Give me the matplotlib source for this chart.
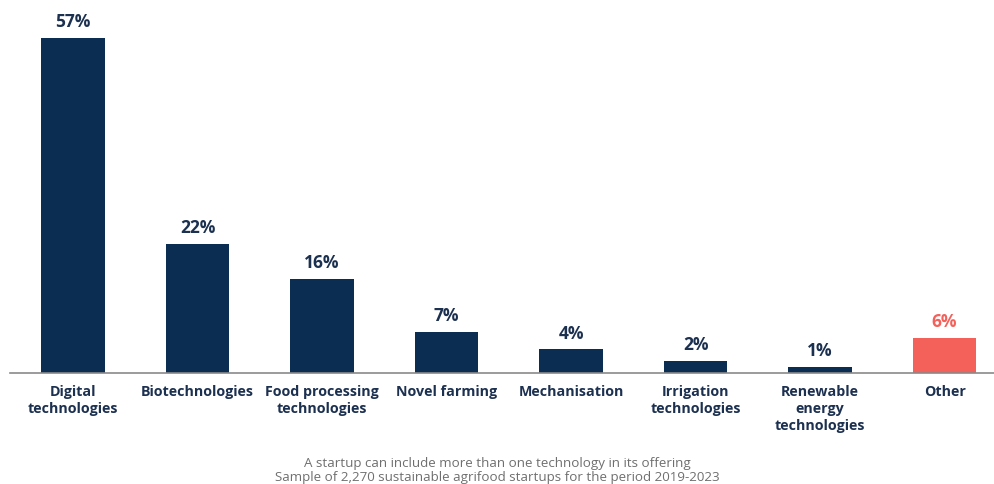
import matplotlib
matplotlib.use("Agg")
from matplotlib import pyplot as plt

# technology categories and share of startups (%)
categories = ["Digital\ntechnologies", "Biotechnologies", "Food processing\ntechnologies",
              "Novel farming", "Mechanisation", "Irrigation\ntechnologies",
              "Renewable\nenergy\ntechnologies", "Other"]
shares = [57, 22, 16, 7, 4, 2, 1, 6]

NAVY = "#0b2d52"
RED = "#f4605a"
TEXT = "#1c3050"

plt.rcParams['font.family'] = ['Open Sans', 'DejaVu Sans']

fig = plt.figure(figsize=(9.94, 4.84), dpi=100)
ax = fig.add_axes([10/994, 111/484, 984/994, 373/484])

colors = [NAVY]*7 + [RED]
xs = list(range(len(categories)))
ax.bar(xs, shares, width=0.51, color=colors)

# value labels above the bars
for x, v, c in zip(xs, shares, colors):
    lc = RED if c == RED else TEXT
    ax.annotate(f"{v}%", (x, v), xytext=(0, 5), textcoords="offset points",
                ha="center", va="bottom", fontsize=12.5, fontweight="bold", color=lc)

ax.set_xlim(-0.506, 7.397)
ax.set_ylim(0, 63.4)

ax.set_xticks(xs)
ax.set_xticklabels(categories, fontsize=10.3, fontweight="bold", color=TEXT, linespacing=1.3)
ax.tick_params(axis="x", length=0, pad=8.5)
ax.set_yticks([])

for s in ["top", "left", "right"]:
    ax.spines[s].set_visible(False)
ax.spines["bottom"].set_color("#8a8a8a")
ax.spines["bottom"].set_linewidth(1.2)

fig.text(497/994, 1 - 463/484, "A startup can include more than one technology in its offering",
         ha="center", va="center", fontsize=9.6, color="#6f6f6f")
fig.text(497/994, 1 - 478/484, "Sample of 2,270 sustainable agrifood startups for the period 2019-2023",
         ha="center", va="center", fontsize=9.6, color="#6f6f6f")

fig.savefig("out.png", dpi=100)
